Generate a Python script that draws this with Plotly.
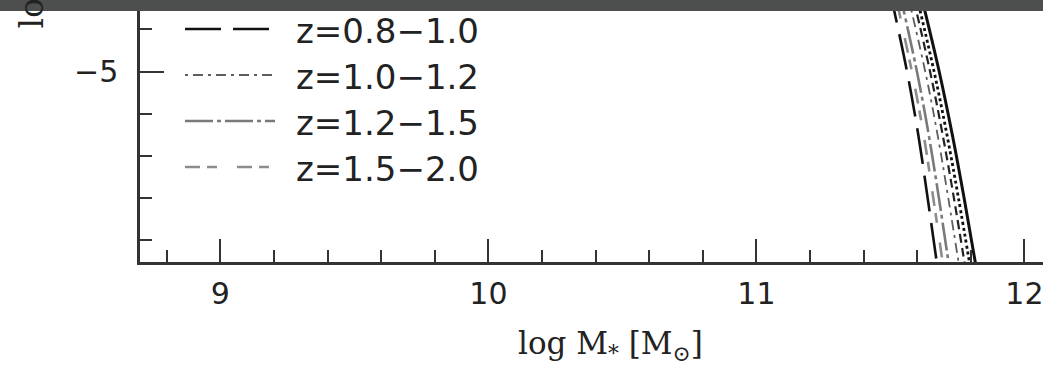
import plotly.graph_objects as go

# ---- data ----
y_levels = [-4.6, -5.0, -5.3, -5.6, -5.95]          # log Phi levels
curve_names = ["z=0.2−0.4", "z=0.4−0.6", "z=0.6−0.8", "z=1.0−1.2",
               "z=1.2−1.5", "z=1.5−2.0", "z=0.8−1.0"]
x_z02_04 = [11.607, 11.682, 11.731, 11.775, 11.823]
x_z04_06 = [11.590, 11.663, 11.711, 11.754, 11.801]
x_z06_08 = [11.576, 11.648, 11.695, 11.737, 11.782]
x_z10_12 = [11.558, 11.630, 11.676, 11.716, 11.760]
x_z12_15 = [11.530, 11.599, 11.643, 11.681, 11.722]
x_z15_20 = [11.512, 11.580, 11.624, 11.660, 11.700]
x_z08_10 = [11.495, 11.562, 11.604, 11.639, 11.678]
curve_x = [x_z02_04, x_z04_06, x_z06_08, x_z10_12, x_z12_15, x_z15_20, x_z08_10]

x_tick_vals = [9, 10, 11, 12]
x_tick_text = ["9", "10", "11", "12"]
legend_labels = ["z=0.8−1.0", "z=1.0−1.2", "z=1.2−1.5", "z=1.5−2.0"]

# ---- styles ----
curve_styles = [
    dict(color="#111111", width=3.0, dash="solid"),
    dict(color="#111111", width=2.8, dash="dot"),
    dict(color="#222222", width=2.2, dash="9px,5px"),
    dict(color="#5e5e5e", width=1.8, dash="3px,5px,10px,5px"),
    dict(color="#7a7a7a", width=2.6, dash="28px,4px,4px,4px"),
    dict(color="#8c8c8c", width=2.6, dash="15px,7px,10px,20px"),
    dict(color="#111111", width=2.6, dash="36px,12px"),
]
legend_styles = [curve_styles[6], curve_styles[3], curve_styles[4], curve_styles[5]]

W, H = 1043, 369
L, B = 140, 107
plot_w, plot_h = W - L, H - B

def px_x(p):
    return (p - L) / plot_w

def px_y(p):
    return (plot_h - p) / plot_h

fig = go.Figure()
for name, xs, st in zip(curve_names, curve_x, curve_styles):
    fig.add_trace(go.Scatter(x=xs, y=y_levels, mode="lines", name=name,
                             line=dict(shape="spline", **st), showlegend=False))

axis_col = "#333333"
tick_font = dict(family="DejaVu Sans", size=30, color="#222222")

fig.update_layout(
    width=W, height=H,
    margin=dict(l=L, r=0, t=0, b=B),
    paper_bgcolor="white", plot_bgcolor="white",
    showlegend=False,
    xaxis=dict(range=[8.7, 8.7 + plot_w / 268.0], tickvals=x_tick_vals, ticktext=x_tick_text,
               ticks="inside", ticklen=23, tickwidth=2, tickcolor=axis_col,
               showline=True, linecolor=axis_col, linewidth=2.5,
               showgrid=False, zeroline=False, tickfont=tick_font, ticklabelstandoff=3,
               ticklabeloverflow="allow",
               minor=dict(dtick=0.2, ticks="inside", ticklen=12, tickwidth=2, tickcolor=axis_col,
                          showgrid=False)),
    yaxis=dict(range=[-5.903, -4.661], dtick=1, tick0=0,
               ticks="inside", ticklen=24, tickwidth=2, tickcolor=axis_col,
               showline=True, linecolor=axis_col, linewidth=2.5,
               showgrid=False, zeroline=False, tickfont=tick_font, ticklabelstandoff=13,
               minor=dict(dtick=0.2, ticks="inside", ticklen=12, tickwidth=2, tickcolor=axis_col,
                          showgrid=False)),
    yaxis2=dict(range=[-5.903, -4.661], dtick=1, tick0=0, overlaying="y", side="right",
                anchor="x", ticks="inside", ticklen=17, tickwidth=2, tickcolor=axis_col,
                showline=False, showgrid=False, zeroline=False, showticklabels=False,
                minor=dict(dtick=0.2, ticks="inside", ticklen=6, tickwidth=2, tickcolor=axis_col,
                           showgrid=False)),
)

# manual legend (line samples + labels)
row_py = [29, 75, 121, 167]
for lab, st, py in zip(legend_labels, legend_styles, row_py):
    fig.add_shape(type="line", xref="paper", yref="paper",
                  x0=px_x(185), x1=px_x(275), y0=px_y(py), y1=px_y(py),
                  line=dict(color=st["color"], width=st["width"], dash=st["dash"]))
    fig.add_annotation(xref="paper", yref="paper", x=px_x(294), y=px_y(py + 2),
                       xanchor="left", yanchor="middle", text=lab, showarrow=False,
                       font=dict(family="DejaVu Sans", size=34, color="#222222"))

# axis titles
fig.add_annotation(xref="paper", yref="paper", x=px_x(610), y=px_y(346),
                   xanchor="center", yanchor="middle", showarrow=False,
                   text="log M<sub>*</sub> [M<sub>⊙</sub>]",
                   font=dict(family="DejaVu Serif", size=31, color="#222222"))
fig.add_annotation(xref="paper", yref="paper", x=px_x(30), y=px_y(31),
                   xanchor="center", yanchor="bottom", textangle=-90, showarrow=False,
                   text="log Φ [Mpc<sup>−3</sup> dex<sup>−1</sup>]",
                   font=dict(family="DejaVu Serif", size=33, color="#222222"))

# dark band across the top of the image
fig.add_shape(type="rect", xref="paper", yref="paper", layer="above",
              x0=-0.2, x1=1.2, y0=px_y(11), y1=px_y(-20),
              fillcolor="#4d4f4f", line=dict(width=0))

fig.write_html("out.html")
